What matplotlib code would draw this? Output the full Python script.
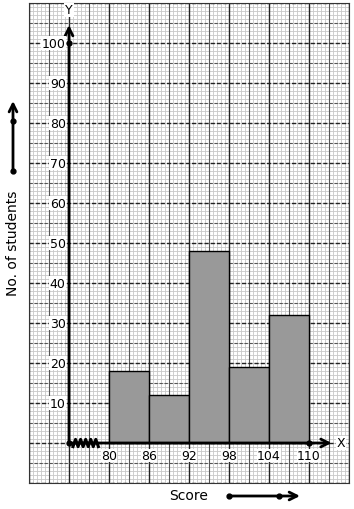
import matplotlib
matplotlib.use("Agg")
import matplotlib.pyplot as plt
import numpy as np

# ---- data ----
bin_edges = [80, 86, 92, 98, 104, 110]
counts = [18, 12, 48, 19, 32]
y_ticks = [10, 20, 30, 40, 50, 60, 70, 80, 90, 100]
x_label = "Score"
y_label = "No. of students"

origin_x = 74
xmin, xmax = 68, 116
ymin, ymax = -10, 110

fig = plt.figure(figsize=(3.54, 5.10), dpi=100)
ax = fig.add_axes([29/354, 26/510, 320/354, 480/510])
ax.set_xlim(xmin, xmax)
ax.set_ylim(ymin, ymax)

# graph-paper grid
for xv in np.arange(xmin, xmax + 0.01, 0.6):
    ax.axvline(xv, color="#c8c8c8", lw=0.6, zorder=0)
for yv in np.arange(ymin, ymax + 0.01, 1):
    ax.axhline(yv, color="#c8c8c8", lw=0.6, zorder=0)
for i, xv in enumerate(np.arange(xmin, xmax + 0.01, 3)):
    ax.axvline(xv, color="#222222" if i % 2 == 0 else "#555555",
               lw=1.0 if i % 2 == 0 else 0.8, zorder=0.5)
for i, yv in enumerate(np.arange(ymin, ymax + 0.01, 5)):
    ax.axhline(yv, color="#222222" if i % 2 == 0 else "#555555",
               lw=1.0 if i % 2 == 0 else 0.8, ls=(0, (3, 1.5)), zorder=0.5)

for s in ax.spines.values():
    s.set_color("#333333")
    s.set_linewidth(0.8)
ax.set_xticks([])
ax.set_yticks([])

# bars
widths = np.diff(bin_edges)
ax.bar(bin_edges[:-1], counts, width=widths, align="edge",
       color="#999999", edgecolor="black", linewidth=1.0, zorder=2)

# axes lines with arrows
ax.annotate("", xy=(origin_x, 104.5), xytext=(origin_x, 0),
            arrowprops=dict(arrowstyle="->", lw=2, color="black",
                            mutation_scale=14, shrinkA=0, shrinkB=0),
            zorder=4)
ax.annotate("", xy=(113.4, 0), xytext=(origin_x, 0),
            arrowprops=dict(arrowstyle="->", lw=2, color="black",
                            mutation_scale=14, shrinkA=0, shrinkB=0),
            zorder=4)
ax.plot([origin_x, origin_x, bin_edges[-1]], [100, 0, 0], "o",
        color="black", ms=3.5, zorder=5)

# zigzag break on x axis
zx = np.linspace(origin_x + 0.6, bin_edges[0] - 1.6, 11)
zy = np.array([0.9 if i % 2 else -0.9 for i in range(len(zx))])
ax.plot(zx, zy, color="black", lw=2.2, zorder=5)

ax.text(origin_x, 108.3, "Y", ha="center", va="center", fontsize=9,
        bbox=dict(facecolor="white", edgecolor="none", pad=0.5), zorder=6)
ax.text(114.8, 0, "X", ha="center", va="center", fontsize=9,
        bbox=dict(facecolor="white", edgecolor="none", pad=0.5), zorder=6)

# tick labels
for yv in y_ticks:
    ax.text(origin_x - 0.5, yv, str(yv), ha="right", va="center", fontsize=9,
            bbox=dict(facecolor="white", edgecolor="none", pad=0.3), zorder=6)
for xv in bin_edges:
    ax.text(xv, -3.1, str(xv), ha="center", va="center", fontsize=9,
            bbox=dict(facecolor="white", edgecolor="none", pad=0.3), zorder=6)

# outside labels with arrows
fig.text(13/354, 1 - 243/510, y_label, rotation=90, ha="center", va="center",
         fontsize=10)
fig.text(189/354, 1 - 496/510, x_label, ha="center", va="center", fontsize=10)

fig.patches.append(matplotlib.patches.FancyArrowPatch(
    (13/354, 1 - 172/510), (13/354, 1 - 102/510), transform=fig.transFigure,
    arrowstyle="->", lw=2, color="black", mutation_scale=14,
    shrinkA=0, shrinkB=0))
fig.patches.append(matplotlib.patches.FancyArrowPatch(
    (229/354, 1 - 497/510), (300/354, 1 - 497/510), transform=fig.transFigure,
    arrowstyle="->", lw=2, color="black", mutation_scale=14,
    shrinkA=0, shrinkB=0))
fig.lines.append(matplotlib.lines.Line2D(
    [13/354, 13/354], [1 - 172/510, 1 - 122/510], transform=fig.transFigure,
    ls="none", marker="o", ms=3.5, color="black"))
fig.lines.append(matplotlib.lines.Line2D(
    [229/354, 279/354], [1 - 497/510, 1 - 497/510], transform=fig.transFigure,
    ls="none", marker="o", ms=3.5, color="black"))

fig.savefig("out.png", dpi=100)
